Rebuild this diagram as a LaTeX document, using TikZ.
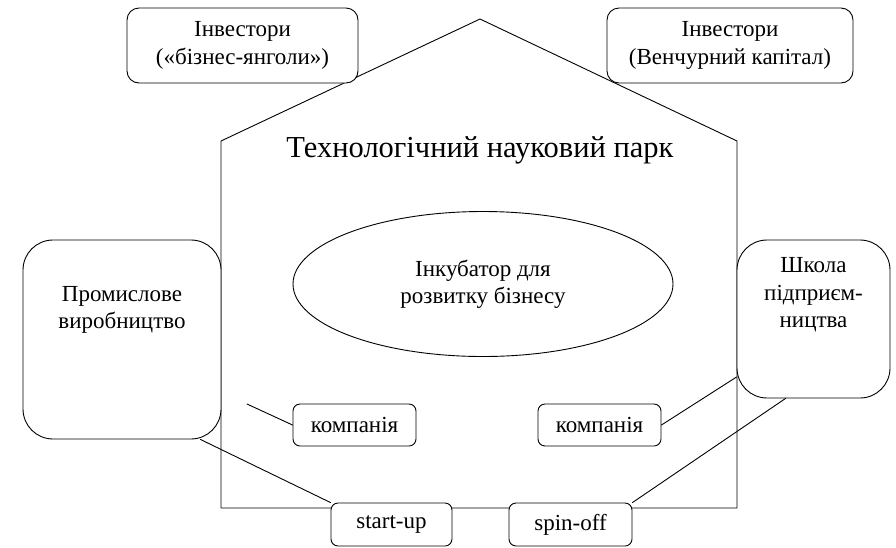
\documentclass[tikz,border=0pt]{standalone}
\usepackage{fontspec}
\setmainfont{Liberation Serif}
\usetikzlibrary{shapes.geometric}

\begin{document}
\begin{tikzpicture}[x=1pt,y=-1pt,line cap=round,line join=round]
\tikzset{
    wall/.style={line width=0.9pt},
    link/.style={line width=0.9pt},
    roundbox/.style={draw=black, fill=white, line width=0.9pt, rounded corners=12pt, align=center, inner sep=0pt, font=\fontsize{23}{27.5}\selectfont},
    bigbox/.style={roundbox, rounded corners=30pt},
    smallbox/.style={roundbox, rounded corners=7pt},
    plain/.style={align=center, font=\fontsize{23}{27.5}\selectfont},
}
\useasboundingbox (0,0) rectangle (896,547);
\draw[wall] (221,508) -- (221,141) -- (480,19) -- (737,141) -- (737,508) -- cycle;
\node[roundbox, minimum width=231pt, minimum height=75pt] (angels) at (242.5,45.5) {Інвестори\\(«бізнес-янголи»)};
\node[roundbox, minimum width=246pt, minimum height=75pt] (venture) at (730,45.5) {Інвестори\\(Венчурний капітал)};
\node[font=\fontsize{30.5}{36}\selectfont] (park) at (480,150) {Технологічний науковий парк};
\node[ellipse, draw=black, line width=0.9pt, minimum width=380pt, minimum height=145pt, plain] (incub) at (483,284) {Інкубатор для\\розвитку бізнесу};
\node[bigbox, minimum width=198pt, minimum height=199pt] (prom) at (122,339.5) {};
\node[plain] (promtext) at (122,310) {Промислове\\виробництво};
\node[bigbox, minimum width=153pt, minimum height=158pt] (school) at (813.5,319) {};
\node[plain] (schooltext) at (813.5,295) {Школа\\підприєм-\\ництва};
\node[smallbox, minimum width=123pt, minimum height=42pt] (komp1) at (354.5,425) {компанія};
\node[smallbox, minimum width=123pt, minimum height=42pt] (komp2) at (599.5,425) {компанія};
\node[smallbox, minimum width=121pt, minimum height=43pt] (startup) at (391.5,524.5) {start-up};
\node[smallbox, minimum width=123pt, minimum height=43pt] (spinoff) at (570.5,524.5) {spin-off};
\coordinate (kompend) at (247,404);
\draw[link] (kompend) -- (komp1.west);
\draw[link] ([xshift=-21pt]prom.south east) -- (startup.north west);
\draw[link] (komp2.east) -- ([yshift=-58pt]school.west);
\draw[link] (spinoff.north east) -- ([xshift=-28pt]school.south);
\end{tikzpicture}
\end{document}
